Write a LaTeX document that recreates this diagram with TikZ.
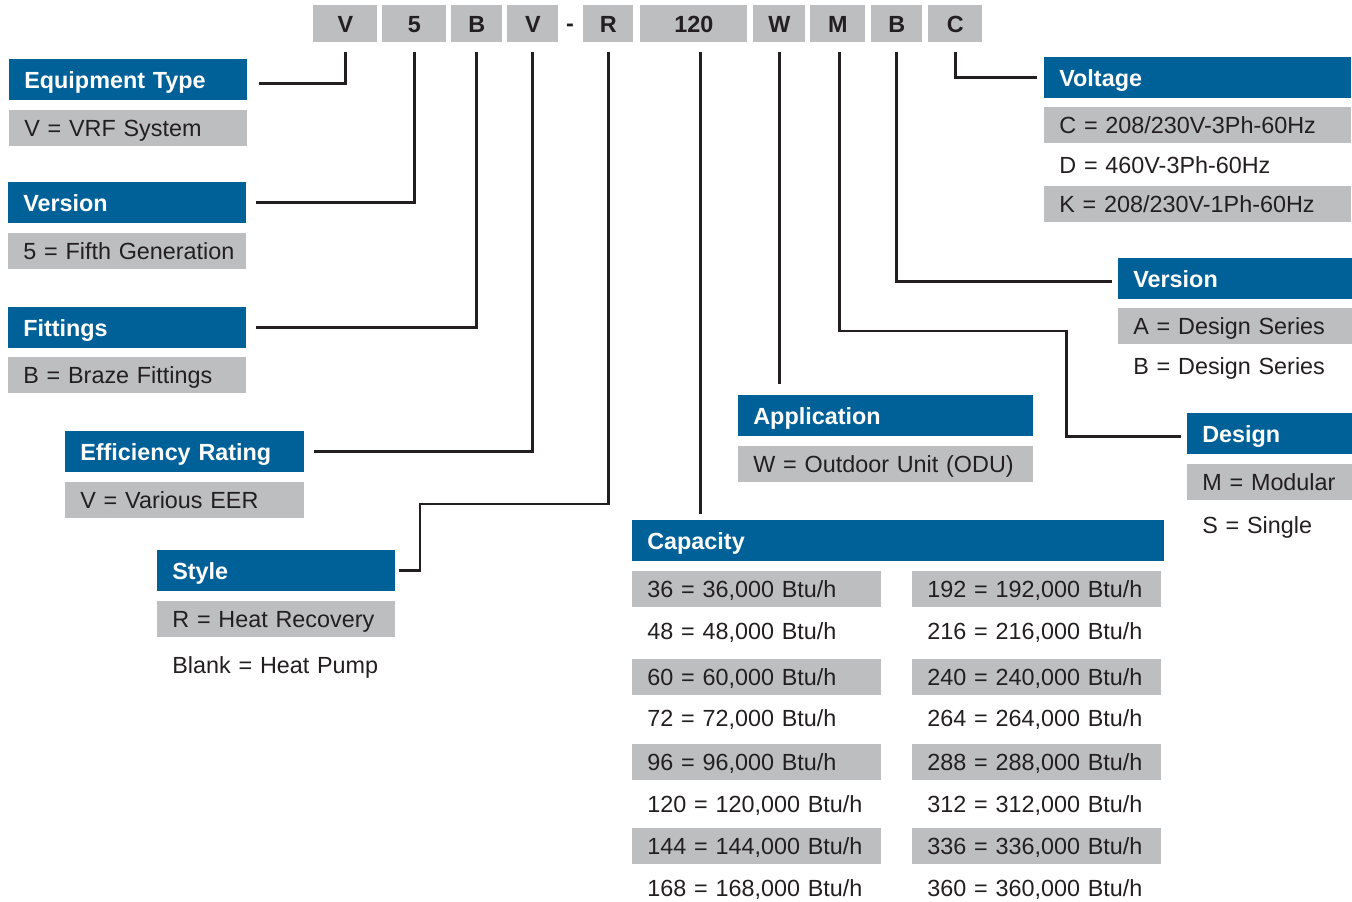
\documentclass[tikz,border=0pt]{standalone}
\usepackage{fontspec}
\setmainfont{Liberation Sans}
\definecolor{hdblue}{HTML}{006199}
\definecolor{cellgray}{HTML}{BCBEC0}
\definecolor{inkdark}{HTML}{231F20}
\newcommand{\cellfont}{\fontsize{13.3}{16}\selectfont}
\tikzset{
  codebox/.style={fill=cellgray, anchor=north west, minimum height=0.74cm, inner sep=0pt,
    text height=0.335cm, text depth=0pt, font=\cellfont\bfseries, text=inkdark},
  head/.style={fill=hdblue, anchor=north west, minimum height=0.82cm, inner xsep=0.3cm, inner ysep=0pt,
    text height=0.335cm, text depth=0pt, align=left, font=\cellfont\bfseries, text=white},
  entry/.style={fill=cellgray, anchor=north west, minimum height=0.72cm, inner xsep=0.3cm, inner ysep=0pt,
    text height=0.335cm, text depth=0pt, align=left, font=\cellfont, text=inkdark},
  plainentry/.style={entry, fill=none},
  conn/.style={line width=1.7pt, draw=inkdark, shorten <=0.18cm},
}
\begin{document}
\begin{tikzpicture}[x=0.02cm, y=-0.02cm]
        \useasboundingbox (0,0) rectangle (1352,902);

        % Code boxes
        \node[codebox, minimum width=1.28cm] (cV) at (313,5) {V};
        \node[codebox, minimum width=1.28cm] (c5) at (382,5) {5};
        \node[codebox, minimum width=1.02cm] (cB) at (451,5) {B};
        \node[codebox, minimum width=1.02cm] (cV2) at (507,5) {V};
        \node[font=\cellfont\bfseries, text=inkdark, inner sep=0pt, text height=0.335cm, text depth=0pt] (dash) at (570,23) {-};
        \node[codebox, minimum width=1.00cm] (cR) at (583,5) {R};
        \node[codebox, minimum width=2.14cm] (c120) at (640,5) {120};
        \node[codebox, minimum width=1.04cm] (cW) at (753,5) {W};
        \node[codebox, minimum width=1.10cm] (cM) at (810,5) {M};
        \node[codebox, minimum width=1.02cm] (cB2) at (871,5) {B};
        \node[codebox, minimum width=1.08cm] (cC) at (928,5) {C};

        % Left column
        \node[head, text width=4.16cm] (hEquip) at (9,59) {Equipment Type};
        \node[entry, text width=4.16cm] (vEquip) at (9,110) {V = VRF System};
        \node[head, text width=4.16cm] (hVers) at (8,182) {Version};
        \node[entry, text width=4.16cm] (vVers) at (8,233) {\mbox{5 = Fifth Generation}};
        \node[head, text width=4.16cm] (hFit) at (8,307) {Fittings};
        \node[entry, text width=4.16cm] (vFit) at (8,357) {B = Braze Fittings};
        \node[head, text width=4.18cm] (hEff) at (65,431) {Efficiency Rating};
        \node[entry, text width=4.18cm] (vEff) at (65,482) {V = Various EER};
        \node[head, text width=4.16cm] (hStyle) at (157,550) {Style};
        \node[entry, text width=4.16cm] (vStyle) at (157,601) {R = Heat Recovery};
        \node[plainentry, text width=4.16cm] (vStyle2) at (157,647) {Blank = Heat Pump};

        % Application
        \node[head, text width=5.30cm] (hAppl) at (738,395) {Application};
        \node[entry, text width=5.30cm] (vAppl) at (738,446) {W = Outdoor Unit (ODU)};

        % Capacity
        \node[head, text width=10.04cm] (hCap) at (632,520) {Capacity};
        \node[entry, text width=4.38cm] (cap1) at (632,571) {36 = 36,000 Btu/h};
        \node[plainentry, text width=4.38cm] (cap2) at (632,613) {48 = 48,000 Btu/h};
        \node[entry, text width=4.38cm] (cap3) at (632,659) {60 = 60,000 Btu/h};
        \node[plainentry, text width=4.38cm] (cap4) at (632,700) {72 = 72,000 Btu/h};
        \node[entry, text width=4.38cm] (cap5) at (632,744) {96 = 96,000 Btu/h};
        \node[plainentry, text width=4.38cm] (cap6) at (632,786) {120 = 120,000 Btu/h};
        \node[entry, text width=4.38cm] (cap7) at (632,828) {144 = 144,000 Btu/h};
        \node[plainentry, text width=4.38cm] (cap8) at (632,870) {168 = 168,000 Btu/h};
        \node[entry, text width=4.38cm] (cap9) at (912,571) {192 = 192,000 Btu/h};
        \node[plainentry, text width=4.38cm] (cap10) at (912,613) {216 = 216,000 Btu/h};
        \node[entry, text width=4.38cm] (cap11) at (912,659) {240 = 240,000 Btu/h};
        \node[plainentry, text width=4.38cm] (cap12) at (912,700) {264 = 264,000 Btu/h};
        \node[entry, text width=4.38cm] (cap13) at (912,744) {288 = 288,000 Btu/h};
        \node[plainentry, text width=4.38cm] (cap14) at (912,786) {312 = 312,000 Btu/h};
        \node[entry, text width=4.38cm] (cap15) at (912,828) {336 = 336,000 Btu/h};
        \node[plainentry, text width=4.38cm] (cap16) at (912,870) {360 = 360,000 Btu/h};

        % Right column
        \node[head, text width=5.54cm] (hVolt) at (1044,57) {Voltage};
        \node[entry, text width=5.54cm] (vVolt1) at (1044,107) {C = 208/230V-3Ph-60Hz};
        \node[plainentry, text width=5.54cm] (vVolt2) at (1044,147) {D = 460V-3Ph-60Hz};
        \node[entry, text width=5.54cm] (vVolt3) at (1044,186) {K = 208/230V-1Ph-60Hz};
        \node[head, text width=4.08cm] (hVer2) at (1118,258) {Version};
        \node[entry, text width=4.08cm] (vVer2a) at (1118,308) {A = Design Series};
        \node[plainentry, text width=4.08cm] (vVer2b) at (1118,348) {B = Design Series};
        \node[head, text width=2.70cm] (hDes) at (1187,413) {Design};
        \node[entry, text width=2.70cm] (vDes1) at (1187,464) {M = Modular};
        \node[plainentry, text width=2.70cm] (vDes2) at (1187,507) {S = Single};

        % Connectors
        \coordinate (rBend) at (420,504);
        \coordinate (mBend) at (1066,331);
        \draw[conn, shorten >=0.22cm] (cV.south) |- ([yshift=-0.08cm]hEquip.east);
        \draw[conn, shorten >=0.18cm] (c5.south) |- (hVers.east);
        \draw[conn, shorten >=0.18cm] (cB.south) |- (hFit.east);
        \draw[conn, shorten >=0.18cm] (cV2.south) |- (hEff.east);
        \draw[conn, shorten >=0.06cm] (cR.south) |- (rBend) |- (hStyle.east);
        \draw[conn, shorten >=0.12cm] ([xshift=0.14cm]c120.south) -- ([xshift=0.14cm]c120.south |- hCap.north);
        \draw[conn, shorten >=0.22cm] (cW.south) -- (cW.south |- hAppl.north);
        \draw[conn, shorten >=0.12cm] ([xshift=0.04cm]cM.south) |- (mBend) |- ([yshift=-0.06cm]hDes.west);
        \draw[conn, shorten >=0.12cm] (cB2.south) |- ([yshift=-0.06cm]hVer2.west);
        \draw[conn, shorten >=0.14cm] (cC.south) |- (hVolt.west);
    \end{tikzpicture}
\end{document}
